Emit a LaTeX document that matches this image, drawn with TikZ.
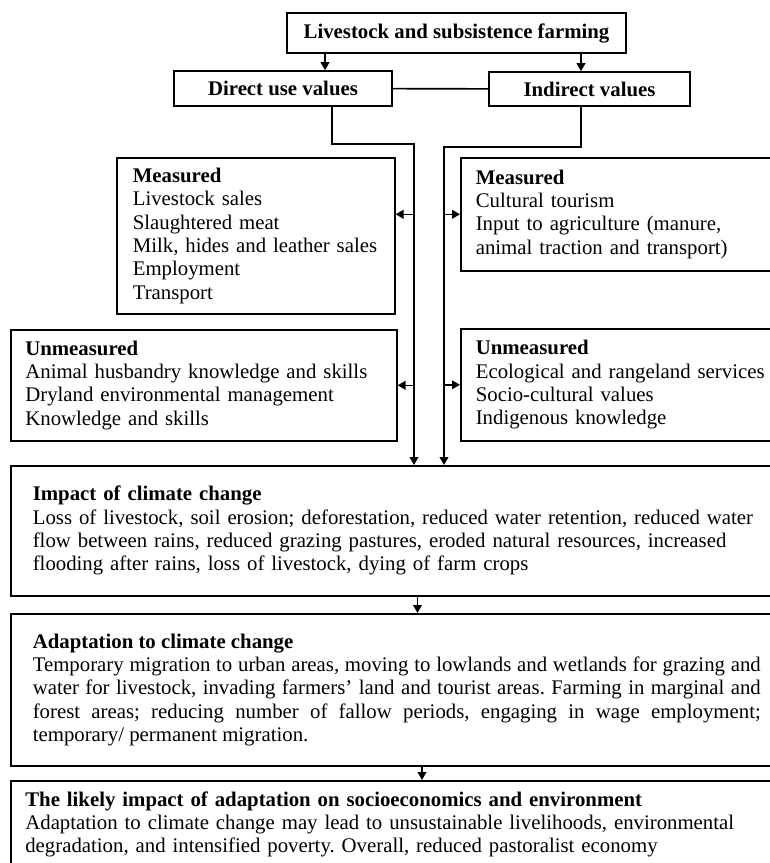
\documentclass[tikz,border=0pt]{standalone}
\usepackage{fontspec}
\setmainfont{Liberation Serif}
\usetikzlibrary{arrows.meta}
\newcommand\boxfont{\fontsize{15.6}{17.5}\selectfont\frenchspacing}
\tikzset{
  valbox/.style={draw, line width=1.2pt, anchor=north west, align=left, inner ysep=2pt},
  headbox/.style={draw, line width=1.2pt, font=\boxfont\bfseries, inner sep=0pt},
  flow/.style={line width=1.2pt, -{Triangle[length=6pt,width=6.5pt]}},
}
\begin{document}
\begin{tikzpicture}[x=0.75pt, y=0.75pt, font=\boxfont]
  \clip (0,0) rectangle (770,-863);
  \node[headbox, minimum width=254.25pt, minimum height=30pt] (farming) at (456.5,-33) {Livestock and subsistence farming};
  \node[headbox, minimum width=163.5pt, minimum height=26.25pt] (direct) at (283,-88.5) {Direct use values};
  \node[headbox, minimum width=150.75pt, minimum height=25.5pt] (indirect) at (589.5,-89) {Indirect values};
  \node[valbox, inner xsep=12pt, text width=184.5pt, minimum height=117pt] (measL) at (116,-157)
    {\textbf{Measured}\\Livestock sales\\Slaughtered meat\\Milk, hides and leather sales\\Employment\\Transport};
  \node[valbox, inner xsep=11.25pt, text width=240pt, minimum height=84.75pt] (measR) at (460,-157)
    {\textbf{Measured}\\Cultural tourism\\Input to agriculture (manure,\\animal traction and transport)};
  \node[valbox, inner xsep=10.9pt, text width=267.7pt, minimum height=83.25pt] (unmL) at (10,-329)
    {\textbf{Unmeasured}\\Animal husbandry knowledge and skills\\Dryland environmental management\\Knowledge and skills};
  \node[valbox, inner xsep=11.25pt, text width=240pt, minimum height=84pt] (unmR) at (460,-328)
    {\textbf{Unmeasured}\\Ecological and rangeland services\\Socio-cultural values\\Indigenous knowledge};
  \node[valbox, inner xsep=16.5pt, text width=560pt, minimum height=97.5pt] (impact) at (10,-465)
    {\textbf{Impact of climate change}\\Loss of livestock, soil erosion; deforestation, reduced water retention, reduced water\\flow between rains, reduced grazing pastures, eroded natural resources, increased\\flooding after rains, loss of livestock, dying of farm crops};
  \node[valbox, inner xsep=16.5pt, text width=546pt, minimum height=114pt, align=justify] (adapt) at (10,-613)
    {\textbf{Adaptation to climate change}\\Temporary migration to urban areas, moving to lowlands and wetlands for grazing and\linebreak water for livestock, invading farmers’ land and tourist areas. Farming in marginal and\linebreak forest areas; reducing number of fallow periods, engaging in wage employment;\linebreak temporary/ permanent migration.};
  \node[valbox, inner xsep=10.9pt, text width=560pt, minimum height=65.25pt] (likely) at (10,-780)
    {\textbf{The likely impact of adaptation on socioeconomics and environment}\\Adaptation to climate change may lead to unsustainable livelihoods, environmental\\degradation, and intensified poverty. Overall, reduced pastoralist economy};
  \coordinate (dbend) at (414,-144);
  \coordinate (ibend) at (444,-147);
  \draw[flow] (325,0 |- farming.south) -- (325,0 |- direct.north);
  \draw[flow] (581,0 |- farming.south) -- (581,0 |- indirect.north);
  \draw[line width=1.2pt] (direct) -- (indirect);
  \draw[flow] (332,0 |- direct.south) |- (dbend) -- (dbend |- impact.north);
  \draw[flow] (581,0 |- indirect.south) |- (ibend) -- (ibend |- impact.north);
  \draw[flow] (dbend |- measR.west) -- (measL.east |- measR.west);
  \draw[flow] (ibend |- measR.west) -- (measR.west);
  \draw[flow] (dbend |- unmL.east) -- (unmL.east);
  \draw[flow] (ibend |- unmR.west) -- (unmR.west);
  \draw[flow] (417.5,0 |- impact.south) -- (417.5,0 |- adapt.north);
  \draw[flow] (422,0 |- adapt.south) -- (422,0 |- likely.north);
\end{tikzpicture}
\end{document}
